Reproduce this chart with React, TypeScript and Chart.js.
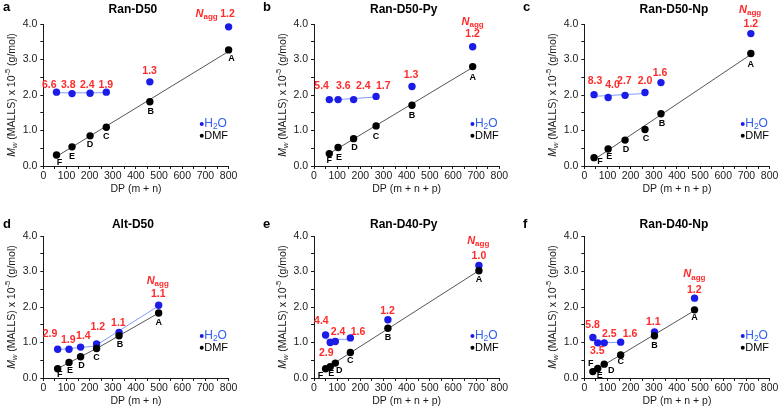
import React, { useEffect, useRef } from 'react';
import { Chart, registerables } from 'chart.js';

Chart.register(...registerables);

const FONT = '"Liberation Sans", Arial, Helvetica, sans-serif';

// ---------- data ----------
const panelLetters = ['a', 'b', 'c', 'd', 'e', 'f'];
const panelTitles = ['Ran-D50', 'Ran-D50-Py', 'Ran-D50-Np', 'Alt-D50', 'Ran-D40-Py', 'Ran-D40-Np'];
const xAxisTitles = ['DP (m + n)', 'DP (m + n + p)', 'DP (m + n + p)', 'DP (m + n)', 'DP (m + n + p)', 'DP (m + n + p)'];
const sampleNames = ['F', 'E', 'D', 'C', 'B', 'A'];

const xTicks = [0, 100, 200, 300, 400, 500, 600, 700, 800];
const yTicks = [0, 1, 2, 3, 4];

const dpRanD50 = [57, 124, 202, 272, 460, 800];
const dmfRanD50 = [0.31, 0.54, 0.85, 1.09, 1.81, 3.27];
const h2oRanD50 = [2.08, 2.04, 2.05, 2.08, 2.37, 3.92];
const naggRanD50 = ['6.6', '3.8', '2.4', '1.9', '1.3', '1.2'];

const dpRanD50Py = [66, 104, 171, 268, 423, 685];
const dmfRanD50Py = [0.35, 0.52, 0.77, 1.13, 1.71, 2.8];
const h2oRanD50Py = [1.87, 1.87, 1.87, 1.96, 2.24, 3.36];
const naggRanD50Py = ['5.4', '3.6', '2.4', '1.7', '1.3', '1.2'];

const dpRanD50Np = [42, 103, 176, 262, 331, 719];
const dmfRanD50Np = [0.235, 0.48, 0.73, 1.03, 1.47, 3.17];
const h2oRanD50Np = [2.01, 1.93, 1.99, 2.07, 2.35, 3.73];
const naggRanD50Np = ['8.3', '4.0', '2.7', '2.0', '1.6', '1.2'];

const dpAltD50 = [62, 111, 161, 230, 327, 498];
const dmfAltD50 = [0.26, 0.44, 0.6, 0.83, 1.19, 1.83];
const h2oAltD50 = [0.81, 0.81, 0.87, 0.96, 1.28, 2.05];
const naggAltD50 = ['2.9', '1.9', '1.4', '1.2', '1.1', '1.1'];

const dpRanD40Py = [50, 70, 92, 157, 319, 712];
const dmfRanD40Py = [0.26, 0.32, 0.42, 0.72, 1.4, 3.02];
const h2oRanD40Py = [1.21, 1.0, 1.03, 1.13, 1.64, 3.17];
const naggRanD40Py = ['4.4', '2.9', '2.4', '1.6', '1.2', '1.0'];

const dpRanD40Np = [37, 58, 86, 157, 303, 476];
const dmfRanD40Np = [0.18, 0.27, 0.39, 0.65, 1.19, 1.92];
const h2oRanD40Np = [1.14, 0.99, 0.99, 1.01, 1.3, 2.25];
const naggRanD40Np = ['5.8', '3.5', '2.5', '1.6', '1.1', '1.2'];

const dpSets = [dpRanD50, dpRanD50Py, dpRanD50Np, dpAltD50, dpRanD40Py, dpRanD40Np];
const dmfSets = [dmfRanD50, dmfRanD50Py, dmfRanD50Np, dmfAltD50, dmfRanD40Py, dmfRanD40Np];
const h2oSets = [h2oRanD50, h2oRanD50Py, h2oRanD50Np, h2oAltD50, h2oRanD40Py, h2oRanD40Np];
const naggSets = [naggRanD50, naggRanD50Py, naggRanD50Np, naggAltD50, naggRanD40Py, naggRanD40Np];

// linear-fit segments: [fitFrom, fitTo, drawFrom, drawTo] (point indices)
const dmfFits = [
  [[0, 5, 0, 5]],
  [[0, 5, 0, 5]],
  [[0, 5, 0, 5]],
  [[0, 3, 0, 3], [3, 5, 3, 5]],
  [[2, 5, 2, 5]],
  [[2, 5, 2, 5]],
];
const h2oFits = [
  [[0, 3, 0, 3]],
  [[0, 3, 0, 3]],
  [[0, 3, 0, 3]],
  [[0, 2, 0, 3], [3, 5, 3, 5]],
  [[0, 3, 0, 3]],
  [[1, 3, 1, 3]],
];

// ---------- layout (annotation anchors, in axis units / px offsets) ----------
const naggLabelPos = [
  [[26, 2.28], [108, 2.28], [190, 2.28], [270, 2.28], [459, 2.66], [795, 4.29]],
  [[33, 2.25], [127, 2.25], [213, 2.25], [299, 2.25], [419, 2.56], [685, 3.71]],
  [[46, 2.39], [122, 2.28], [173, 2.39], [262, 2.39], [327, 2.63], [719, 4.0]],
  [[29, 1.25], [108, 1.06], [173, 1.19], [235, 1.42], [324, 1.56], [496, 2.35]],
  [[32, 1.6], [53, 0.71], [104, 1.29], [190, 1.29], [317, 1.89], [712, 3.43]],
  [[36, 1.49], [56, 0.77], [108, 1.25], [197, 1.25], [298, 1.57], [475, 2.48]],
];
const naggTitlePos = [[705, 4.29], [685, 4.07], [716, 4.4], [494, 2.74], [709, 3.87], [475, 2.92]];
const letterOffsets = [
  [[3, 8], [0, 10], [0, 9], [0, 9], [1, 10], [3, 9]],
  [[0, 7], [1, 10], [1, 9], [0, 11], [0, 10], [0, 11]],
  [[6, 4], [1, 8], [1, 9], [1, 9], [1, 10], [0, 11]],
  [[2, 6], [1, 8], [1, 9], [0, 9], [1, 9], [0, 9]],
  [[-5, 7], [1, 7], [4, 7], [0, 8], [0, 9], [0, 9]],
  [[-2, -8], [2, 7], [7, 6], [0, 7], [0, 10], [0, 8]],
];
const legendX = 684;
const legendY = [1.18, 0.85];

const CANVAS_W = 260;
const CANVAS_H = 196;
const COL_LEFT = [0, 260, 520];
const ROW_TOP = [0, 212];
const PLOT_LEFT = [43.3, 54, 64.3];
const PLOT_W = 185.3;
const PLOT_TOP = 24;
const PLOT_BOTTOM = 166;
const TITLE_Y = [10, 13];
const LETTER_Y = [7, 12];

const BLUE = '#1c1ce8';
const BLUE_LINE = '#7f9cff';
const BLUE_TEXT = '#2f5fee';
const RED = '#ff2a2a';
const INK = '#1a1a1a';

function linFit(xs: number[], ys: number[], a: number, b: number) {
  let sx = 0, sy = 0, n = 0;
  for (let i = a; i <= b; i++) { sx += xs[i]; sy += ys[i]; n++; }
  const mx = sx / n, my = sy / n;
  let sxy = 0, sxx = 0;
  for (let i = a; i <= b; i++) { sxy += (xs[i] - mx) * (ys[i] - my); sxx += (xs[i] - mx) ** 2; }
  const m = sxx === 0 ? 0 : sxy / sxx;
  return { m, c: my - m * mx };
}

type Part = { text: string; font: string; color: string; dy?: number };
function drawRich(ctx: CanvasRenderingContext2D, parts: Part[], x: number, y: number, align: 'left' | 'center') {
  let total = 0;
  for (const p of parts) { ctx.font = p.font; total += ctx.measureText(p.text).width; }
  let cx = align === 'center' ? x - total / 2 : x;
  ctx.textAlign = 'left';
  ctx.textBaseline = 'middle';
  for (const p of parts) {
    ctx.font = p.font;
    ctx.fillStyle = p.color;
    ctx.fillText(p.text, cx, y + (p.dy || 0));
    cx += ctx.measureText(p.text).width;
  }
}

function Panel({ idx }: { idx: number }) {
  const ref = useRef<HTMLCanvasElement | null>(null);
  const col = idx % 3;
  const row = Math.floor(idx / 3);

  useEffect(() => {
    const canvas = ref.current;
    if (!canvas) return;
    const dp = dpSets[idx];
    const dmf = dmfSets[idx];
    const h2o = h2oSets[idx];
    const plotLeft = PLOT_LEFT[col];
    const plotRight = plotLeft + PLOT_W;

    const fitDatasets: any[] = [];
    const addFits = (ys: number[], segs: number[][], color: string) => {
      for (const [fa, fb, da, db] of segs) {
        const { m, c } = linFit(dp, ys, fa, fb);
        fitDatasets.push({
          type: 'line',
          data: [{ x: dp[da], y: m * dp[da] + c }, { x: dp[db], y: m * dp[db] + c }],
          borderColor: color,
          borderWidth: 1,
          pointRadius: 0,
          fill: false,
          tension: 0,
          order: 2,
          clip: false,
        });
      }
    };
    addFits(dmf, dmfFits[idx], '#555555');
    addFits(h2o, h2oFits[idx], BLUE_LINE);

    const textPlugin = {
      id: 'panelText' + idx,
      afterDraw(chart: any) {
        const ctx: CanvasRenderingContext2D = chart.ctx;
        const xs = chart.scales.x;
        const ys = chart.scales.y;
        const ca = chart.chartArea;
        const px = (v: number) => xs.getPixelForValue(v);
        const py = (v: number) => ys.getPixelForValue(v);
        ctx.save();
        // panel letter
        drawRich(ctx, [{ text: panelLetters[idx], font: `bold 13px ${FONT}`, color: '#000' }], 3, LETTER_Y[row], 'left');
        // title
        drawRich(ctx, [{ text: panelTitles[idx], font: `bold 12px ${FONT}`, color: '#000' }], (ca.left + ca.right) / 2 - 3, TITLE_Y[row], 'center');
        // x-axis title
        drawRich(ctx, [{ text: xAxisTitles[idx], font: `10.5px ${FONT}`, color: INK }], (ca.left + ca.right) / 2, 189, 'center');
        // y-axis title (rotated)
        ctx.save();
        ctx.translate(ca.left - 31, (ca.top + ca.bottom) / 2);
        ctx.rotate(-Math.PI / 2);
        drawRich(ctx, [
          { text: 'M', font: `italic 10.5px ${FONT}`, color: INK },
          { text: 'w', font: `italic 7.5px ${FONT}`, color: INK, dy: 3 },
          { text: ' (MALLS) x 10', font: `10.5px ${FONT}`, color: INK },
          { text: '-5', font: `7.5px ${FONT}`, color: INK, dy: -4 },
          { text: ' (g/mol)', font: `10.5px ${FONT}`, color: INK },
        ], 0, 0, 'center');
        ctx.restore();
        // sample letters
        for (let i = 0; i < dp.length; i++) {
          const [dx, dy] = letterOffsets[idx][i];
          drawRich(ctx, [{ text: sampleNames[i], font: `bold 9px ${FONT}`, color: '#000' }], px(dp[i]) + dx, py(dmf[i]) + dy, 'center');
        }
        // Nagg values
        for (let i = 0; i < dp.length; i++) {
          const [lx, ly] = naggLabelPos[idx][i];
          drawRich(ctx, [{ text: naggSets[idx][i], font: `bold 10.5px ${FONT}`, color: RED }], px(lx), py(ly), 'center');
        }
        const [tx, ty] = naggTitlePos[idx];
        drawRich(ctx, [
          { text: 'N', font: `italic bold 11px ${FONT}`, color: RED },
          { text: 'agg', font: `bold 8px ${FONT}`, color: RED, dy: 3 },
        ], px(tx), py(ty), 'center');
        // legend
        const lx = px(legendX);
        ctx.fillStyle = BLUE;
        ctx.beginPath(); ctx.arc(lx, py(legendY[0]), 2, 0, Math.PI * 2); ctx.fill();
        drawRich(ctx, [
          { text: 'H', font: `12px ${FONT}`, color: BLUE_TEXT },
          { text: '2', font: `8.5px ${FONT}`, color: BLUE_TEXT, dy: 3 },
          { text: 'O', font: `12px ${FONT}`, color: BLUE_TEXT },
        ], lx + 2.5, py(legendY[0]), 'left');
        ctx.fillStyle = '#000';
        ctx.beginPath(); ctx.arc(lx, py(legendY[1]), 2, 0, Math.PI * 2); ctx.fill();
        drawRich(ctx, [{ text: 'DMF', font: `11px ${FONT}`, color: '#000' }], lx + 2.5, py(legendY[1]), 'left');
        ctx.restore();
      },
    };

    const tickFont = { family: FONT, size: 10.5 };
    const chart = new Chart(canvas, {
      type: 'scatter',
      data: {
        datasets: [
          {
            type: 'scatter',
            data: dp.map((x, i) => ({ x, y: h2o[i] })),
            backgroundColor: BLUE,
            borderWidth: 0,
            pointRadius: 3.7,
            order: 1,
            clip: false,
          },
          {
            type: 'scatter',
            data: dp.map((x, i) => ({ x, y: dmf[i] })),
            backgroundColor: '#000',
            borderWidth: 0,
            pointRadius: 3.7,
            order: 0,
            clip: false,
          },
          ...fitDatasets,
        ],
      } as any,
      options: {
        animation: false,
        responsive: false,
        maintainAspectRatio: false,
        events: [],
        layout: { padding: { left: 0, top: PLOT_TOP, right: CANVAS_W - plotRight, bottom: 0 } },
        plugins: { legend: { display: false }, tooltip: { enabled: false }, title: { display: false } },
        scales: {
          x: {
            type: 'linear',
            min: xTicks[0],
            max: xTicks[xTicks.length - 1],
            ticks: {
              stepSize: 50,
              autoSkip: false,
              maxRotation: 0,
              padding: 1,
              color: INK,
              font: tickFont,
              callback: (v: any) => (xTicks.includes(Number(v)) ? String(v) : ''),
            },
            grid: { drawOnChartArea: false, drawTicks: true, tickLength: 3, color: INK, lineWidth: 1 },
            border: { display: true, color: INK, width: 1 },
            afterFit: (s: any) => { s.height = CANVAS_H - PLOT_BOTTOM; },
          },
          y: {
            type: 'linear',
            min: yTicks[0],
            max: yTicks[yTicks.length - 1],
            ticks: {
              stepSize: 0.5,
              autoSkip: false,
              padding: 3,
              color: INK,
              font: tickFont,
              callback: (v: any) => {
                const n = Number(v);
                return yTicks.some((t) => Math.abs(t - n) < 1e-6) ? n.toFixed(1) : '';
              },
            },
            grid: { drawOnChartArea: false, drawTicks: true, tickLength: 3, color: INK, lineWidth: 1 },
            border: { display: true, color: INK, width: 1 },
            afterFit: (s: any) => { s.width = plotLeft; },
          },
        },
      } as any,
      plugins: [textPlugin],
    });
    return () => chart.destroy();
  }, [idx]);

  return (
    <canvas
      ref={ref}
      width={CANVAS_W}
      height={CANVAS_H}
      style={{ position: 'absolute', left: COL_LEFT[col], top: ROW_TOP[row], width: CANVAS_W, height: CANVAS_H }}
    />
  );
}

export default function App() {
  return (
    <div style={{ position: 'fixed', left: 0, top: 0, width: 780, height: 408, background: '#fff', overflow: 'hidden' }}>
      {panelLetters.map((_, i) => (
        <Panel key={i} idx={i} />
      ))}
    </div>
  );
}
